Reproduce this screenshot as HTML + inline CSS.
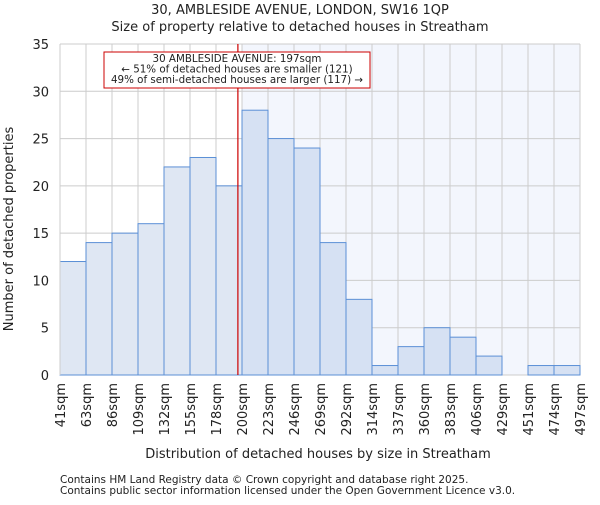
<!DOCTYPE html>
<html><head><meta charset="utf-8"><style>
body{margin:0;background:#fff;}
svg text{font-family:"DejaVu Sans","Liberation Sans",sans-serif;fill:#222;}
</style></head><body>
<svg width="600" height="500" xmlns="http://www.w3.org/2000/svg">
<g id="chart"></g>
</svg>
<script>
const categories=["41sqm","63sqm","86sqm","109sqm","132sqm","155sqm","178sqm","200sqm","223sqm","246sqm","269sqm","292sqm","314sqm","337sqm","360sqm","383sqm","406sqm","429sqm","451sqm","474sqm","497sqm"];
const counts=[12,14,15,16,22,23,20,28,25,24,14,8,1,3,5,4,2,0,1,1];
const yTicks=[0,5,10,15,20,25,30,35];
const binStart=41, binWidth=22.8;
const markerValue=197;
const ns="http://www.w3.org/2000/svg";
const g=document.getElementById('chart');
const L=60,R=580,T=44,B=375,yMax=35;
const bw=(R-L)/counts.length;
const xs=v=>L+(v-binStart)/binWidth*bw;
const ys=v=>B-v/yMax*(B-T);
function el(t,a,p){const e=document.createElementNS(ns,t);for(const k in a)e.setAttribute(k,a[k]);(p||g).appendChild(e);return e;}
const mx=xs(markerValue);
const shadeBin=Math.ceil((markerValue-binStart)/binWidth);
const sx=L+shadeBin*bw;
let r=el('rect',{x:sx,y:T,width:R-sx,height:B-T,fill:'#f3f6fd'});


for(let i=0;i<=counts.length;i++){let l=el('line',{x1:L+i*bw,x2:L+i*bw,y1:T,y2:B,stroke:'#cccccc','stroke-width':1});

}
yTicks.forEach(v=>{let l=el('line',{x1:L,x2:R,y1:ys(v),y2:ys(v),stroke:'#cccccc','stroke-width':1});


let t=el('text',{x:L-11,y:ys(v)+5,'text-anchor':'end','font-size':13});t.textContent=v;

});
counts.forEach((c,i)=>{if(c<=0)return;const x=L+i*bw;
let b=el('rect',{x:x,y:ys(c),width:bw,height:B-ys(c),fill:i>=shadeBin?'#d6e1f3':'#dfe7f3',stroke:'#5b8fd6','stroke-width':1});

});
categories.forEach((c,i)=>{const x=L+i*bw;
let t=el('text',{x:0,y:0,'text-anchor':'end','font-size':13,transform:`translate(${x+5},${B+8}) rotate(-90)`});t.textContent=c;

});
let ml=el('line',{x1:mx,x2:mx,y1:T,y2:B,stroke:'#cc0000','stroke-width':1.2});


let box=el('rect',{x:104,y:52,width:266,height:36,fill:'#fff',stroke:'#cc0000','stroke-width':1});


["30 AMBLESIDE AVENUE: 197sqm","← 51% of detached houses are smaller (121)","49% of semi-detached houses are larger (117) →"].forEach((s,i)=>{
let t=el('text',{x:237,y:62+i*10.5,'text-anchor':'middle','font-size':10.3});t.textContent=s;

});
let ax=el('line',{x1:L,x2:L,y1:T,y2:B,stroke:'#cccccc'});


function txt(s,a,name){let t=el('text',a);t.textContent=s;

}
txt("30, AMBLESIDE AVENUE, LONDON, SW16 1QP",{x:300,y:14,'text-anchor':'middle','font-size':13},'chart-title');
txt("Size of property relative to detached houses in Streatham",{x:300,y:31,'text-anchor':'middle','font-size':13},'chart-subtitle');
txt("Distribution of detached houses by size in Streatham",{x:318,y:458,'text-anchor':'middle','font-size':13},'x-axis-title');
txt("Number of detached properties",{x:0,y:0,'text-anchor':'middle','font-size':13,transform:'translate(13,229) rotate(-90)'},'y-axis-title');
txt("Contains HM Land Registry data © Crown copyright and database right 2025.",{x:60,y:483,'font-size':10.5,fill:'#444'},'footer-line-1');
txt("Contains public sector information licensed under the Open Government Licence v3.0.",{x:60,y:494,'font-size':10.5,fill:'#444'},'footer-line-2');
</script>
</body></html>
